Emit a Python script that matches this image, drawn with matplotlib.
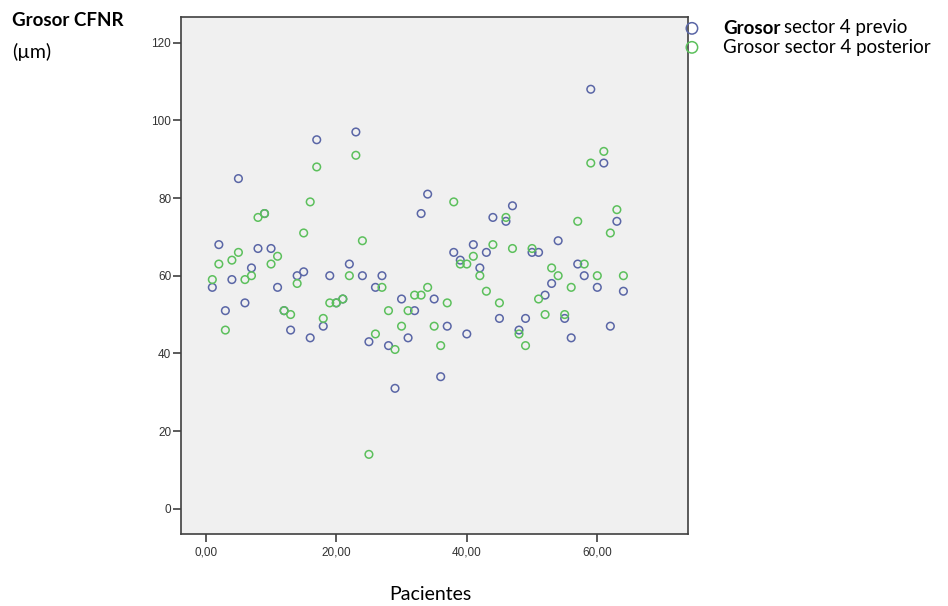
import numpy as np
import matplotlib
matplotlib.use('Agg')
import matplotlib.pyplot as plt

# patients 1..64
pacientes = np.arange(1, 65)

previo = [57, 68, 51, 59, 85, 53, 62, 67, 76, 67,
          57, 51, 46, 60, 61, 44, 95, 47, 60, 53,
          54, 63, 97, 60, 43, 57, 60, 42, 31, 54,
          44, 51, 76, 81, 54, 34, 47, 66, 64, 45,
          68, 62, 66, 75, 49, 74, 78, 46, 49, 66,
          66, 55, 58, 69, 49, 44, 63, 60, 108, 57,
          89, 47, 74, 56]

posterior = [59, 63, 46, 64, 66, 59, 60, 75, 76, 63,
             65, 51, 50, 58, 71, 79, 88, 49, 53, 53,
             54, 60, 91, 69, 14, 45, 57, 51, 41, 47,
             51, 55, 55, 57, 47, 42, 53, 79, 63, 63,
             65, 60, 56, 68, 53, 75, 67, 45, 42, 67,
             54, 50, 62, 60, 50, 57, 74, 63, 89, 60,
             92, 71, 77, 60]

x_ticks = [0, 20, 40, 60]
x_ticklabels = ['0,00', '20,00', '40,00', '60,00']
y_ticks = [0, 20, 40, 60, 80, 100, 120]

azul = '#5a66a6'
verde = '#5cc05c'
gris = '#404040'

fig = plt.figure(figsize=(9.48, 6.06), dpi=100)
ax = fig.add_axes([181/948, 1 - 534/606, (688 - 181)/948, (534 - 17)/606])
ax.set_facecolor('#f0f0f0')

sc1 = ax.scatter(pacientes, previo, s=30, facecolors='none', edgecolors=azul, linewidths=1.1, zorder=3)
sc2 = ax.scatter(pacientes, posterior, s=30, facecolors='none', edgecolors=verde, linewidths=1.1, zorder=3)

ax.set_xlim(-3.8, 73.9)
ax.set_ylim(-6.5, 126.6)
ax.set_xticks(x_ticks)
ax.set_xticklabels(x_ticklabels)
ax.set_yticks(y_ticks)

for sp in ax.spines.values():
    sp.set_color(gris)
    sp.set_linewidth(1.2)
ax.tick_params(axis='both', direction='out', length=6, width=1.2, color=gris,
               labelsize=8.5, labelcolor='#333333')
ax.tick_params(axis='x', pad=3)
ax.tick_params(axis='y', pad=1)
for lab in ax.get_xticklabels() + ax.get_yticklabels():
    lab.set_family('Liberation Sans')

# legend markers only, labels are written by hand (bold first word)
fig.legend(handles=[sc1, sc2], labels=[' ', ' '], loc='upper left',
           bbox_to_anchor=(685/948, 1 - 21/606), frameon=False,
           borderpad=0, borderaxespad=0, handlelength=1.0, handletextpad=0,
           labelspacing=0.36, markerscale=1.5, fontsize=10)

t_bold = fig.text(723/948, 1 - 28/606, 'Grosor', fontsize=13.5, family='Lato', weight='bold', va='center')
fig.canvas.draw()
bb = t_bold.get_window_extent(renderer=fig.canvas.get_renderer())
fig.text((bb.x1 + 4)/948, 1 - 28/606, 'sector 4 previo', fontsize=13.5, family='Lato', va='center')
fig.text(723/948, 1 - 47/606, 'Grosor sector 4 posterior', fontsize=13.5, family='Lato', va='center')

fig.text(12/948, 1 - 20/606, 'Grosor CFNR', fontsize=13.5, family='Lato', weight='bold', va='center')
fig.text(12/948, 1 - 52/606, '(µm)', fontsize=14, family='Lato', va='center')

fig.text(430/948, 1 - 594/606, 'Pacientes', fontsize=14, family='Lato', ha='center', va='center')

plt.savefig('out.png', dpi=100)
